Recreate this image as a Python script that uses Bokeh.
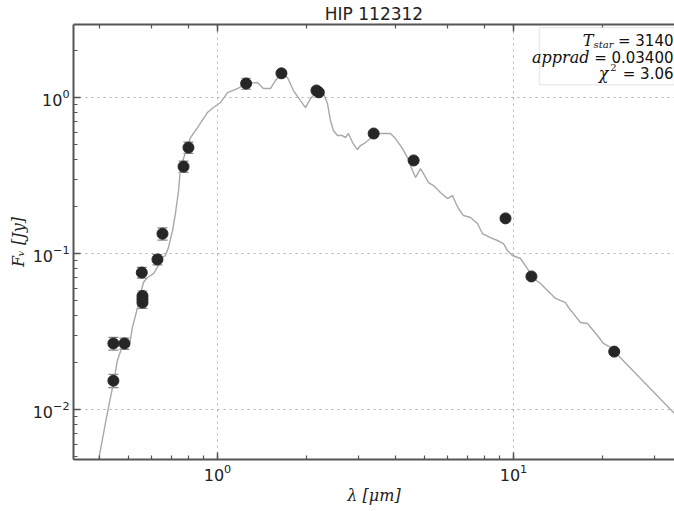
from bokeh.plotting import figure
from bokeh.models import Range1d, LogAxis, Label, BoxAnnotation, Whisker, ColumnDataSource, TeeHead
from bokeh.embed import file_html
from bokeh.resources import INLINE

# ---- data ----
model_wl = [0.390, 0.418, 0.435, 0.445, 0.459, 0.474, 0.493, 0.504, 0.516, 0.537,
            0.550, 0.562, 0.580, 0.608, 0.632, 0.647, 0.667, 0.683, 0.705, 0.721,
            0.739, 0.750, 0.774, 0.811, 0.856, 0.925, 0.969, 1.024, 1.081, 1.168,
            1.253, 1.365, 1.430, 1.510, 1.570, 1.645, 1.724, 1.806, 1.907, 1.983,
            2.062, 2.177, 2.281, 2.353, 2.409, 2.466, 2.543, 2.644, 2.707, 2.771,
            2.859, 2.972, 3.042, 3.162, 3.288, 3.365, 3.471, 3.842, 3.994, 4.217,
            4.385, 4.559, 4.667, 4.852, 4.967, 5.164, 5.369, 5.666, 5.984, 6.222,
            6.370, 6.520, 6.779, 7.157, 7.556, 7.857, 8.360, 8.827, 9.252, 9.544,
            9.922, 10.56, 11.15, 11.69, 12.34, 13.03, 13.87, 14.99, 15.34, 15.95,
            16.84, 17.78, 19.22, 20.14, 21.27, 35.0]
model_fl = [0.0040, 0.00813, 0.01194, 0.01468, 0.0206, 0.0246, 0.0250, 0.0257, 0.0336, 0.0451,
            0.0554, 0.0652, 0.0702, 0.0744, 0.0838, 0.0942, 0.0971, 0.1093, 0.1404, 0.1805,
            0.2534, 0.3558, 0.4248, 0.5541, 0.6423, 0.8013, 0.8628, 0.9289, 1.0766, 1.1423,
            1.2297, 1.2482, 1.1423, 1.1423, 1.2851, 1.4251, 1.3434, 1.1088, 0.9567, 0.8628,
            0.9853, 1.0926, 1.0608, 0.9153, 0.7120, 0.6143, 0.5707, 0.5707, 0.5541, 0.5878,
            0.5146, 0.4642, 0.4924, 0.5146, 0.5460, 0.5878, 0.5878, 0.5878, 0.5460, 0.4710,
            0.4124, 0.3403, 0.3070, 0.3506, 0.3257, 0.2851, 0.2728, 0.2460, 0.2252, 0.2353,
            0.2122, 0.1943, 0.1752, 0.1701, 0.1557, 0.1343, 0.1266, 0.1212, 0.1159, 0.1045,
            0.0971, 0.0929, 0.0801, 0.0691, 0.0642, 0.0579, 0.0515, 0.0485, 0.0451, 0.0412,
            0.0361, 0.0356, 0.0298, 0.0265, 0.0250, 0.00943]

phot_wl = [0.445, 0.445, 0.485, 0.555, 0.558, 0.558, 0.558, 0.627, 0.652, 0.768,
           0.798, 1.25, 1.645, 2.16, 2.20, 3.37, 4.60, 9.40, 11.5, 21.9]
phot_fl = [0.0265, 0.0153, 0.0265, 0.0755, 0.0535, 0.0510, 0.0485, 0.0916, 0.134, 0.361,
           0.478, 1.23, 1.43, 1.11, 1.08, 0.588, 0.395, 0.168, 0.0713, 0.0235]
phot_err = [0.0025, 0.0015, 0.0022, 0.006, 0.004, 0.004, 0.004, 0.007, 0.012, 0.03,
            0.04, 0.10, 0.05, 0.04, 0.03, 0.0, 0.0, 0.0, 0.0, 0.0]

title_text = "HIP 112312"
t_star = "3140"
apprad = "0.03400"
chi2 = "3.06"

# ---- figure ----
p = figure(width=674, height=511, x_axis_type="log", y_axis_type="log",
           x_range=Range1d(0.3263, 35.0), y_range=Range1d(0.00478, 2.94),
           output_backend="svg", toolbar_location=None, title=title_text,
           min_border_left=73, min_border_right=0, min_border_top=24, min_border_bottom=52)
p.outline_line_color = None
p.background_fill_color = "white"
p.title.align = "center"
p.title.text_font = "DejaVu Sans"
p.title.text_font_size = "17px"
p.title.text_font_style = "normal"
p.title.text_color = "#222222"
p.title.standoff = 2

AX = "#555555"

def style_axis(ax):
    ax.axis_line_color = AX
    ax.axis_line_width = 2
    ax.major_tick_line_color = AX
    ax.minor_tick_line_color = AX
    ax.major_tick_line_width = 1.5
    ax.minor_tick_line_width = 1.2
    ax.major_tick_in = 7
    ax.major_tick_out = 0
    ax.minor_tick_in = 4
    ax.minor_tick_out = 0
    ax.major_label_text_font = "DejaVu Sans"
    ax.major_label_text_font_size = "16px"
    ax.major_label_text_color = "#222222"
    ax.major_label_standoff = 4
    ax.axis_label_text_font = "DejaVu Serif"
    ax.axis_label_text_font_style = "italic"
    ax.axis_label_text_font_size = "16px"
    ax.axis_label_text_color = "#222222"
    ax.axis_label_standoff = 2

style_axis(p.xaxis[0])
style_axis(p.yaxis[0])
p.xaxis.axis_label = "λ [μm]"
p.yaxis.axis_label = "F\u1d65 [Jy]"

top = LogAxis()
style_axis(top)
top.major_label_text_font_size = "1px"
top.major_label_text_alpha = 0
top.major_label_standoff = 0
p.add_layout(top, "above")

for g in (p.xgrid, p.ygrid):
    g.grid_line_color = "#b0b0b0"
    g.grid_line_dash = "2 4"
    g.grid_line_width = 1

# model spectrum
p.line(model_wl, model_fl, line_color="#a8a8a8", line_width=1.4)

# error bars
ew = [w for w, e in zip(phot_wl, phot_err) if e > 0]
eu = [f + e for f, e in zip(phot_fl, phot_err) if e > 0]
el = [f - e for f, e in zip(phot_fl, phot_err) if e > 0]
esrc = ColumnDataSource(dict(base=ew, upper=eu, lower=el))
wh = Whisker(base="base", upper="upper", lower="lower", source=esrc,
             line_color="#888888", line_width=1.2,
             upper_head=TeeHead(size=10, line_color="#888888", line_width=1.2),
             lower_head=TeeHead(size=10, line_color="#888888", line_width=1.2))
p.add_layout(wh)

# photometry
p.scatter(phot_wl, phot_fl, size=11, fill_color="#262626", line_color="#262626")

# info box
box = BoxAnnotation(left=12.24, right=35.0, bottom=1.21, top=2.81,
                    fill_color="white", fill_alpha=1.0, line_color="#bbbbbb", line_width=1.5)
p.add_layout(box)

XR, YT = 35.0, 2.94

def lab(text, dx, dy, font="DejaVu Sans", style="normal", size="15px"):
    p.add_layout(Label(x=XR, y=YT, x_offset=dx, y_offset=dy, text=text,
                       text_align="right", text_baseline="alphabetic",
                       text_font=font, text_font_style=style, text_font_size=size,
                       text_color="#111111"))

lab("= " + t_star, -1, -16)
lab("star", -61, -20, "DejaVu Serif", "italic", "10px")
lab("T", -81, -16, "DejaVu Serif", "italic", "16px")
lab("= " + apprad, -1, -33)
lab("apprad", -85, -33, "DejaVu Serif", "italic", "16px")
lab("= " + chi2, -1, -49)
lab("2", -58, -43, "DejaVu Serif", "normal", "10px")
lab("χ", -66, -49, "DejaVu Serif", "italic", "16px")

open("out.html", "w").write(file_html(p, INLINE))
